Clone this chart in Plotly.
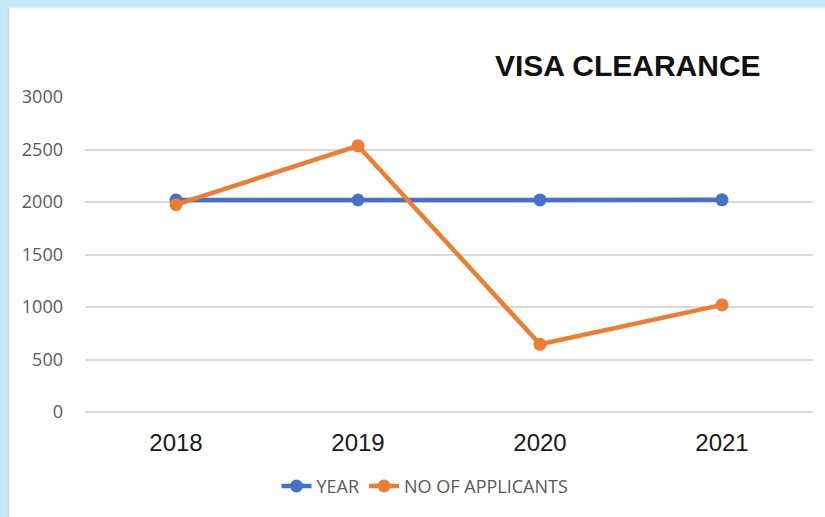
import plotly.graph_objects as go

categories = ["2018", "2019", "2020", "2021"]
year_values = [2018, 2019, 2020, 2021]
applicant_values = [1975, 2535, 645, 1020]
y_ticks = [0, 500, 1000, 1500, 2000, 2500, 3000]

fig = go.Figure()
fig.add_trace(go.Scatter(
    x=categories, y=year_values, name="YEAR", mode="lines+markers",
    line=dict(color="#4472c4", width=4.5),
    marker=dict(color="#4472c4", size=13),
))
fig.add_trace(go.Scatter(
    x=categories, y=applicant_values, name="NO OF APPLICANTS", mode="lines+markers",
    line=dict(color="#ed7d31", width=4.5),
    marker=dict(color="#ed7d31", size=13),
))

L, R, T, B = 85, 12, 97, 102
W, H = 825, 517
pw, ph = W - L - R, H - T - B

def px(x):
    return (x - L) / pw

def py(y):
    return (H - B - y) / ph

fig.update_layout(
    width=W, height=H,
    margin=dict(l=L, r=R, t=T, b=B),
    paper_bgcolor="#c6e9f8",
    plot_bgcolor="rgba(0,0,0,0)",
    showlegend=True,
    legend=dict(orientation="h", x=px(425), xanchor="center", y=py(490), yanchor="middle",
                bgcolor="rgba(0,0,0,0)",
                font=dict(family="Open Sans", size=18, color="#595959"),
                itemwidth=30, traceorder="normal"),
    shapes=[
        dict(type="rect", xref="paper", yref="paper", x0=px(8), x1=px(840), y0=py(7), y1=py(540),
             fillcolor="white", line=dict(width=0), layer="below"),
        dict(type="line", xref="paper", yref="paper", x0=px(8.5), x1=px(8.5), y0=py(7), y1=py(540),
             line=dict(color="#d4d4d4", width=1.5), layer="below"),
    ],
    annotations=[
        dict(text="<b>VISA CLEARANCE</b>", xref="paper", yref="paper", x=px(628), y=py(65),
             xanchor="center", yanchor="middle", showarrow=False,
             font=dict(family="Liberation Sans, Arial", size=30, color="#111111")),
    ],
    xaxis=dict(
        type="category", range=[-0.5, 3.5], showgrid=False, zeroline=False,
        showline=False, ticks="", ticklabelstandoff=14,
        tickfont=dict(family="Liberation Sans, Arial", size=24, color="#1a1a1a"),
    ),
    yaxis=dict(
        range=[0, 3000], tickvals=y_ticks, showgrid=True, gridcolor="#d9d9d9", gridwidth=1.5,
        zeroline=True, zerolinecolor="#d9d9d9", zerolinewidth=1.5, showline=False, ticks="",
        ticklabelstandoff=21,
        tickfont=dict(family="Open Sans", size=18, color="#595959"),
    ),
)

fig.write_html("out.html", config={"displayModeBar": False},
               post_script="document.body.style.margin='0';document.body.style.padding='0';")
